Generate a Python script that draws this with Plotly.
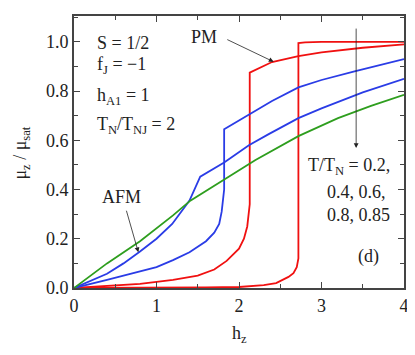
import plotly.graph_objects as go

# magnetization curves mu_z / mu_sat vs h_z for several T/T_N
x_t02 = [0, 1.0, 1.6, 2.0, 2.3, 2.45, 2.6, 2.66, 2.70, 2.72, 2.72, 2.8, 3.0, 4.0]
y_t02 = [0, 0.0, 0.002, 0.004, 0.012, 0.02, 0.045, 0.06, 0.085, 0.12, 0.995, 0.998, 1.0, 1.0]

x_t04 = [0, 0.4, 0.8, 1.2, 1.5, 1.7, 1.85, 2.0, 2.06, 2.10, 2.12, 2.13, 2.13, 2.4, 2.72, 3.0, 3.5, 4.0]
y_t04 = [0, 0.007, 0.017, 0.033, 0.05, 0.075, 0.11, 0.16, 0.2, 0.25, 0.3, 0.34, 0.875, 0.918, 0.942, 0.957, 0.976, 0.99]

x_t06 = [0, 0.2, 0.4, 0.6, 0.8, 1.0, 1.2, 1.4, 1.6, 1.7, 1.76, 1.79, 1.81, 1.82, 1.82, 2.12, 2.4, 2.72, 3.0, 3.4, 4.0]
y_t06 = [0, 0.015, 0.033, 0.05, 0.066, 0.085, 0.113, 0.145, 0.19, 0.225, 0.26, 0.31, 0.37, 0.40, 0.645, 0.705, 0.76, 0.815, 0.845, 0.88, 0.93]

x_t08 = [0, 0.2, 0.4, 0.6, 0.8, 1.0, 1.19, 1.4, 1.49, 1.53, 1.82, 2.12, 2.36, 2.72, 3.0, 3.5, 4.0]
y_t08 = [0, 0.028, 0.058, 0.1, 0.148, 0.2, 0.26, 0.355, 0.42, 0.452, 0.51, 0.58, 0.625, 0.69, 0.73, 0.795, 0.85]

x_t085 = [0, 0.4, 0.8, 1.2, 1.41, 1.82, 2.2, 2.72, 3.2, 3.6, 4.0]
y_t085 = [0, 0.1, 0.19, 0.295, 0.355, 0.44, 0.52, 0.617, 0.69, 0.74, 0.785]

RED = "#f01010"
BLUE = "#2a3ce6"
GREEN = "#2e9e1e"
FONT = "Liberation Serif"
TXT = "#222222"
FS = 18

fig = go.Figure()
for xs, ys, c in [(x_t02, y_t02, RED), (x_t04, y_t04, RED), (x_t06, y_t06, BLUE),
                  (x_t08, y_t08, BLUE), (x_t085, y_t085, GREEN)]:
    fig.add_trace(go.Scatter(x=xs, y=ys, mode="lines", line=dict(color=c, width=1.8),
                             showlegend=False))

axis_common = dict(
    showline=True, linecolor="#444", linewidth=2, mirror="ticks",
    ticks="inside", ticklen=6, tickcolor="#444", tickwidth=1,
    showgrid=False, zeroline=False, ticklabeloverflow="allow",
    tickfont=dict(family=FONT, size=FS, color=TXT),
)
fig.update_xaxes(range=[0, 4], dtick=1, minor=dict(dtick=0.5, ticks="inside", ticklen=4, tickcolor="#444"),
                 **axis_common)
fig.update_yaxes(range=[0, 1.105], dtick=0.2, tickformat=".1f",
                 minor=dict(dtick=0.1, ticks="inside", ticklen=4, tickcolor="#444"), **axis_common)

font = dict(family=FONT, size=FS, color=TXT)
notes = [
    ("S = 1/2", 0.253, 0.995, "left"),
    ("f<sub>J</sub> = \u22121", 0.253, 0.905, "left"),
    ("h<sub>A1</sub> = 1", 0.253, 0.78, "left"),
    ("T<sub>N</sub>/T<sub>NJ</sub> = 2", 0.253, 0.66, "left"),
    ("PM", 1.57, 1.02, "center"),
    ("AFM", 0.57, 0.37, "center"),
    ("T/T<sub>N</sub> = 0.2,", 3.86, 0.495, "right"),
    ("0.4, 0.6,", 3.8, 0.39, "right"),
    ("0.8, 0.85", 3.85, 0.295, "right"),
    ("(d)", 3.57, 0.128, "center"),
]
for t, x, y, anc in notes:
    fig.add_annotation(text=t, x=x, y=y, xref="x", yref="y", showarrow=False,
                       xanchor=anc, yanchor="middle", font=font)

# arrows
for (x0, y0, x1, y1) in [(1.84, 1.012, 2.42, 0.919), (0.63, 0.32, 0.78, 0.145), (3.42, 1.06, 3.42, 0.569)]:
    fig.add_annotation(x=x1, y=y1, ax=x0, ay=y0, xref="x", yref="y", axref="x", ayref="y",
                       text="", showarrow=True, arrowhead=2, arrowsize=1.2, arrowwidth=0.8,
                       arrowcolor="#222")

fig.add_annotation(text="h<sub>z</sub>", x=0.5, y=-0.17, xref="paper", yref="paper",
                   showarrow=False, font=font, xanchor="center", yanchor="middle")
fig.add_annotation(text="\u03bc<sub>z</sub> / \u03bc<sub>sat</sub>", x=-0.16, y=0.495,
                   xref="paper", yref="paper", textangle=-90, showarrow=False, font=font,
                   xanchor="center", yanchor="middle")

# page body adds an 8px offset, so the figure is 8px smaller than the window
fig.update_layout(width=407, height=347, margin=dict(l=66, r=6, t=6, b=67),
                  plot_bgcolor="white", paper_bgcolor="white")

fig.write_html("out.html")
